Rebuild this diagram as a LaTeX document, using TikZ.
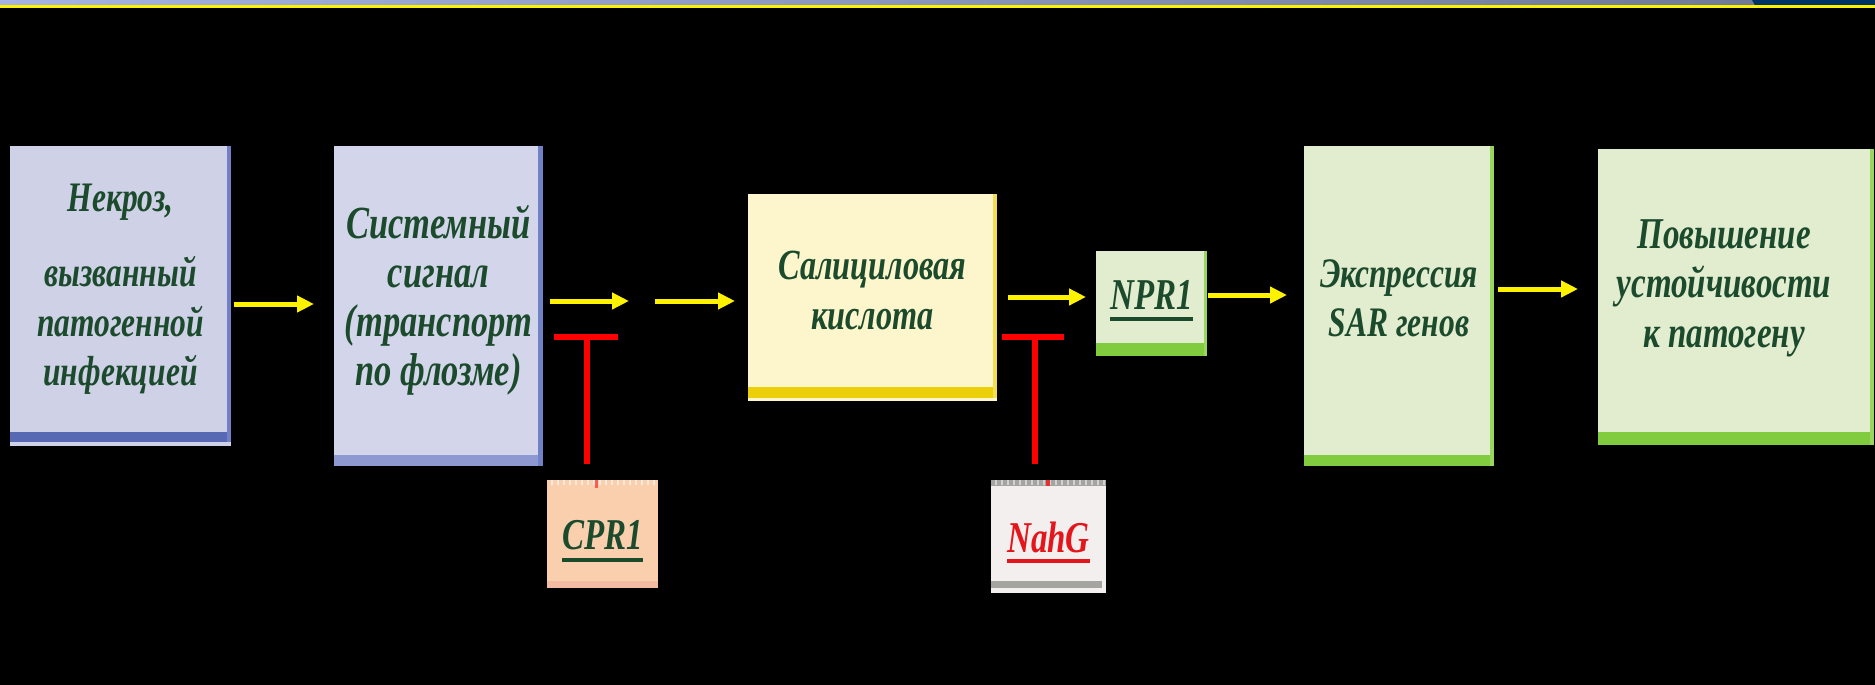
\documentclass[tikz,border=0pt]{standalone}
\usepackage{fontspec}
\newfontfamily\tfont[FakeStretch=0.75]{Liberation Serif}
\usetikzlibrary{arrows.meta,calc}
\definecolor{tgreen}{HTML}{1C4A2C}
\definecolor{lavfill}{HTML}{CFD1E6}
\definecolor{lavfillb}{HTML}{D3D5EA}
\definecolor{lavband}{HTML}{5669B2}
\definecolor{lavbandb}{HTML}{8D99D0}
\definecolor{lavedge}{HTML}{7081C6}
\definecolor{safill}{HTML}{FDF6CC}
\definecolor{saband}{HTML}{EBCF08}
\definecolor{saedge}{HTML}{F2DD55}
\definecolor{grfill}{HTML}{E2ECCE}
\definecolor{grband}{HTML}{80CC3E}
\definecolor{gredge}{HTML}{98D65E}
\definecolor{peach}{HTML}{F9CFAE}
\definecolor{peachband}{HTML}{F2BBA2}
\definecolor{nahgfill}{HTML}{F3EFEE}
\definecolor{nahgband}{HTML}{A4A4A0}
\definecolor{nahgred}{HTML}{E4151B}
\definecolor{barl}{HTML}{A4B3E3}
\definecolor{barm}{HTML}{7A85A6}
\definecolor{barr}{HTML}{6C7694}
\definecolor{navy}{HTML}{003366}
\newcommand{\thickul}[2]{\setbox0\hbox{#2}\rlap{\rule[-#1]{\wd0}{4pt}}\box0}
\newcommand{\tfs}[2]{\tfont\bfseries\itshape\fontsize{#1}{#2}\selectfont}
\tikzset{
  box/.style={inner sep=0pt, outer sep=0pt, anchor=north west},
  lbl/.style={inner sep=0pt, align=center, text=tgreen},
  arr/.style={draw=yellow, line width=5pt, -{Triangle[length=17pt,width=16pt]}},
  inh/.style={draw=red, line width=5.5pt}
}
\begin{document}
\begin{tikzpicture}[x=1pt,y=-1pt]
\useasboundingbox (0,0) rectangle (1875,685);
\fill[black] (0,0) rectangle (1875,685);
% top bar
\shade[left color=barl, middle color=barm, right color=barr] (0,0) rectangle (1875,5.2);
\fill[navy] (1752,0) -- (1875,0) -- (1875,5.2) -- (1755,5.2) -- cycle;
\fill[yellow] (0,5.2) rectangle (1875,7.6);

% boxes
\node[box, fill=lavfill, minimum width=221pt, minimum height=300pt,
  label={[lbl, font=\tfs{42}{49.5}, yshift=7pt]center:{Некроз,\\[26pt]вызванный\\патогенной\\инфекцией}}]
  (b1) at (10,146) {};
\node[box, fill=lavfillb, minimum width=209pt, minimum height=320pt,
  label={[lbl, font=\tfs{46}{49}, yshift=6pt]center:{Системный\\сигнал\\(транспорт\\по флозме)}}]
  (b2) at (334,146) {};
\node[box, fill=safill, minimum width=249pt, minimum height=207pt,
  label={[lbl, font=\tfs{43}{50}, yshift=7pt]center:{Салициловая\\кислота}}]
  (sa) at (748,194) {};
\node[box, fill=grfill, minimum width=111pt, minimum height=105pt,
  label={[lbl, font=\tfs{44}{48}, yshift=3pt]center:{\thickul{11pt}{NPR1}}}]
  (npr) at (1096,251) {};
\node[box, fill=grfill, minimum width=190pt, minimum height=320pt,
  label={[lbl, font=\tfs{42}{49}, yshift=8pt]center:{Экспрессия\\SAR генов}}]
  (sar) at (1304,146) {};
\node[box, fill=grfill, minimum width=276pt, minimum height=296pt,
  label={[lbl, font=\tfs{44}{49.5}, yshift=9pt, xshift=-12pt]center:{Повышение\\устойчивости\\к патогену}}]
  (fin) at (1598,149) {};
\node[box, fill=peach, minimum width=111pt, minimum height=108pt,
  label={[lbl, font=\tfs{44}{48}, yshift=-7pt]center:{\thickul{12pt}{CPR1}}}]
  (cpr) at (547,480) {};
\node[box, fill=nahgfill, minimum width=115pt, minimum height=113pt,
  label={[lbl, text=nahgred, font=\tfs{44}{48}, yshift=-6pt]center:{\thickul{11pt}{NahG}}}]
  (nahg) at (991,480) {};

% box decorations
\fill[lavband] ($(b1.south west)+(0,-14)$) rectangle ($(b1.south east)+(0,-4)$);
\fill[lavedge] ($(b1.north east)+(-4,0)$) rectangle ($(b1.south east)+(0,-4)$);
\fill[lavbandb] ($(b2.south west)+(0,-11)$) rectangle (b2.south east);
\fill[lavedge] ($(b2.north east)+(-5,0)$) rectangle (b2.south east);
\fill[saband] ($(sa.south west)+(0,-14)$) rectangle ($(sa.south east)+(0,-3)$);
\fill[saedge] ($(sa.north east)+(-4,0)$) rectangle ($(sa.south east)+(0,-3)$);
\fill[grband] ($(npr.south west)+(0,-13)$) rectangle (npr.south east);
\fill[gredge] ($(npr.north east)+(-3,0)$) rectangle (npr.south east);
\fill[grband] ($(sar.south west)+(0,-11)$) rectangle (sar.south east);
\fill[gredge] ($(sar.north east)+(-4,0)$) rectangle (sar.south east);
\fill[grband] ($(fin.south west)+(0,-13)$) rectangle (fin.south east);
\fill[gredge] ($(fin.north east)+(-4,0)$) rectangle (fin.south east);
\fill[peachband] ($(cpr.south west)+(0,-7)$) rectangle (cpr.south east);
\foreach \i in {0,...,17} \fill[white, opacity=.55] ($(cpr.north west)+(4+6*\i,0)$) rectangle ++(2,5);
\fill[red!55!peach] ($(cpr.north)+(-8,0)$) rectangle ++(3,8);
\fill[nahgband] (nahg.north west) rectangle ($(nahg.north east)+(0,6)$);
\fill[nahgband] ($(nahg.south west)+(0,-12)$) rectangle ($(nahg.south east)+(-4,-5)$);
\foreach \i in {0,...,18} \fill[white, opacity=.5] ($(nahg.north west)+(4+6*\i,0)$) rectangle ++(2,5);
\fill[red!70!nahgband] ($(nahg.north)+(-3,0)$) rectangle ++(4,6);

% arrows
\coordinate (ya1) at (0,304);
\coordinate (ya2) at (0,301);
\coordinate (ya4) at (0,297);
\coordinate (ya5) at (0,295);
\coordinate (ya6) at (0,289);
\coordinate (m1) at (629,301);
\coordinate (m2) at (655,301);
\draw[arr, shorten <=3pt, shorten >=20pt] (b1.east |- ya1) -- (b2.west |- ya1);
\draw[arr, shorten <=7pt] (b2.east |- ya2) -- (m1);
\draw[arr, shorten >=13pt] (m2) -- (sa.west |- ya2);
\draw[arr, shorten <=11pt, shorten >=10pt] (sa.east |- ya4) -- (npr.west |- ya4);
\draw[arr, shorten <=1pt, shorten >=17pt] (npr.east |- ya5) -- (sar.west |- ya5);
\draw[arr, shorten <=4pt, shorten >=20pt] (sar.east |- ya6) -- (fin.west |- ya6);

% inhibition
\coordinate (t1) at (587,337);
\coordinate (t2) at (1035,337);
\draw[inh] ($(t1)+(-33,0)$) -- ($(t1)+(31,0)$);
\draw[inh, shorten >=16pt] (t1) -- (t1 |- cpr.north);
\draw[inh] ($(t2)+(-33,0)$) -- ($(t2)+(29,0)$);
\draw[inh, shorten >=16pt] (t2) -- (t2 |- nahg.north);
\end{tikzpicture}
\end{document}
